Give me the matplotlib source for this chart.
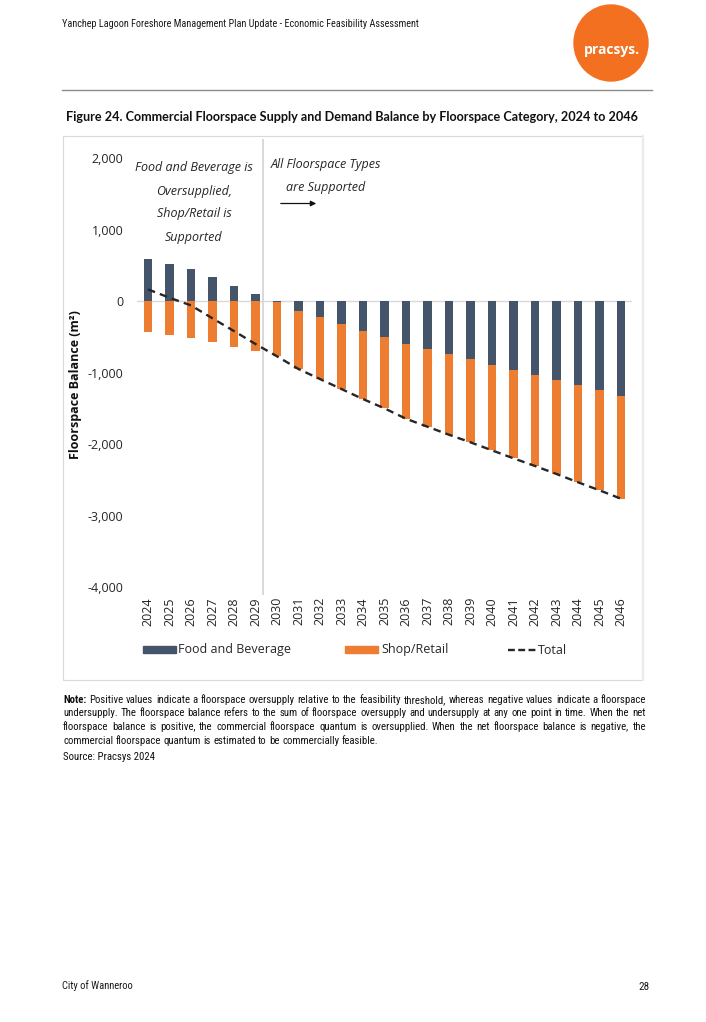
import matplotlib
matplotlib.use("Agg")
import matplotlib.pyplot as plt
from matplotlib.patches import Ellipse, Rectangle, FancyArrowPatch
from matplotlib.lines import Line2D
from matplotlib import font_manager
import numpy as np

# ---------------- data ----------------
years = [str(y) for y in range(2024, 2047)]
food_bev = [596, 521, 456, 335, 218, 102, -8, -131, -224, -317, -411, -501, -597,
            -667, -741, -811, -887, -957, -1031, -1101, -1175, -1245, -1320]
shop_retail = [-429, -471, -513, -573, -634, -699, -761, -816, -863, -910, -956, -996,
               -1045, -1087, -1125, -1161, -1197, -1239, -1272, -1314, -1356, -1398, -1441]
total = [167, 50, -57, -238, -416, -597, -769, -947, -1087, -1227, -1367, -1497, -1642,
         -1754, -1866, -1972, -2084, -2196, -2303, -2415, -2531, -2643, -2761]
y_ticks = [2000, 1000, 0, -1000, -2000, -3000, -4000]
series_names = ["Food and Beverage", "Shop/Retail", "Total"]

FOOD_C = "#44546A"
SHOP_C = "#ED7D31"
LOGO_C = "#F37021"
TXT_C = "#262626"


def pick(cands):
    for c in cands:
        try:
            font_manager.findfont(font_manager.FontProperties(family=c), fallback_to_default=False)
            return c
        except Exception:
            pass
    return "DejaVu Sans"


NARROW = pick(["Liberation Sans Narrow", "Roboto Condensed", "Open Sans Condensed", "Liberation Sans"])
CHART = pick(["Open Sans", "Noto Sans", "DejaVu Sans"])
TITLE = pick(["Lato", "Open Sans", "DejaVu Sans"])

W, H = 706, 1022
fig = plt.figure(figsize=(W / 100, H / 100), dpi=100)
bg = fig.add_axes([0, 0, 1, 1])
bg.set_xlim(0, W)
bg.set_ylim(H, 0)
bg.axis("off")
r = fig.canvas.get_renderer()


def fit_text(x, y, s, width, size0=10, **kw):
    t = bg.text(x, y, s, fontsize=size0, **kw)
    w = t.get_window_extent(r).width
    t.set_fontsize(size0 * width / w)
    return t


def word_w(s, size, family, weight="normal"):
    t = bg.text(0, 0, s, fontsize=size, family=family, weight=weight)
    w = t.get_window_extent(r).width
    t.remove()
    return w


# ---------------- header ----------------
fit_text(62, 24, "Yanchep Lagoon Foreshore Management Plan Update - Economic Feasibility Assessment",
         352, family=NARROW, color="#1a1a1a", va="center", ha="left")
bg.add_patch(Ellipse((611, 43), 74, 76, color=LOGO_C, zorder=1))
fit_text(612, 50, "pracsys.", 56, family=CHART, weight="bold", color="white",
         va="center", ha="center", zorder=2)
bg.add_line(Line2D([62, 652], [90, 90], color="#8C8C8C", lw=1.0))

fit_text(66, 117, "Figure 24. Commercial Floorspace Supply and Demand Balance by Floorspace Category, 2024 to 2046",
         577, family=TITLE, weight="bold", color="#111111", va="center", ha="left")

# ---------------- chart frame ----------------
bg.add_patch(Rectangle((63, 136), 579, 544, fill=False, edgecolor="#D9D9D9", lw=0.8))
bg.add_line(Line2D([642.5, 642.5], [136, 680], color="#EBEBEB", lw=1.6))
bg.add_line(Line2D([263, 263], [140, 594], color="#D9D9D9", lw=1.4))

# ---------------- main axes ----------------
x0, x1 = 137.2, 631.7
ytop, ybot = 158.3, 587.3
ax = fig.add_axes([x0 / W, 1 - ybot / H, (x1 - x0) / W, (ybot - ytop) / H])
ax.set_facecolor("none")
xs = np.arange(len(years))
food = np.array(food_bev, dtype=float)
shop = np.array(shop_retail, dtype=float)
shop_bottom = np.where(food < 0, food, 0.0)
bw = 0.38
ax.axhline(0, color="#D9D9D9", lw=1.0, zorder=1)
ax.bar(xs, food, bw, color=FOOD_C, zorder=2, linewidth=0)
ax.bar(xs, shop, bw, bottom=shop_bottom, color=SHOP_C, zorder=2, linewidth=0)
ax.plot(xs, total, color="#262626", lw=1.7, linestyle=(0, (3.2, 2.2)), zorder=3)
ax.set_xlim(-0.5, len(years) - 0.5)
ax.set_ylim(-4000, 2000)
ax.set_yticks(y_ticks)
ax.set_yticklabels([f"{v:,}" for v in y_ticks], fontsize=9, family=CHART, color=TXT_C)
ax.set_xticks(xs)
ax.set_xticklabels(years, rotation=90, fontsize=9, family=CHART, color=TXT_C)
ax.tick_params(axis="y", length=0, pad=10)
ax.tick_params(axis="x", length=0, pad=7)
for s in ax.spines.values():
    s.set_visible(False)

# y label
bg.text(75, 385, "Floorspace Balance (m²)", rotation=90, fontsize=9, family=CHART,
        weight="bold", color="#111111", ha="center", va="center")

# annotations
for yy, s in zip([167.7, 191, 214, 237.3],
                 ["Food and Beverage is", "Oversupplied,", "Shop/Retail is", "Supported"]):
    bg.text(194, yy, s, fontsize=9, family=CHART, style="italic", color=TXT_C,
            ha="center", va="center")
for yy, s in zip([164.3, 187.7], ["All Floorspace Types", "are Supported"]):
    bg.text(325.5, yy, s, fontsize=9, family=CHART, style="italic", color=TXT_C,
            ha="center", va="center")
bg.add_patch(FancyArrowPatch((278, 203.5), (319, 203.5), arrowstyle="-|>",
                             mutation_scale=8, lw=0.9, color="#111111"))

# legend
ly = 650
bg.add_patch(Rectangle((143, ly - 3.5), 33, 7, color=FOOD_C))
bg.text(178, ly, series_names[0], fontsize=9, family=CHART, color=TXT_C, va="center", ha="left")
bg.add_patch(Rectangle((345, ly - 3.5), 33, 7, color=SHOP_C))
bg.text(381, ly, series_names[1], fontsize=9, family=CHART, color=TXT_C, va="center", ha="left")
bg.add_line(Line2D([508, 536], [ly, ly], color="#262626", lw=1.7, linestyle=(0, (2.9, 1.45))))
bg.text(538, ly, series_names[2], fontsize=9, family=CHART, color=TXT_C, va="center", ha="left")

# ---------------- note ----------------
note_raw = [
    "Positive values indicate a floorspace oversupply relative to the feasibility threshold, whereas negative values indicate a floorspace",
    "undersupply.  The floorspace balance refers to the sum of floorspace oversupply and undersupply at any one point in time. When the net",
    "floorspace balance is positive, the commercial floorspace quantum is oversupplied. When the net floorspace balance is negative, the",
    "commercial floorspace quantum is estimated to be commercially feasible.",
]
note_lines = [[("Note:", "bold")] + [(w, "normal") for w in note_raw[0].split()]] + \
             [[(w, "normal") for w in s.split()] for s in note_raw[1:]]
nx0, nx1 = 63, 646
sz0 = 8
nat = word_w("Note: " + note_raw[0], sz0, NARROW)
nsz = sz0 * (nx1 - nx0) * 0.99 / nat
space = word_w("a b", nsz, NARROW) - word_w("ab", nsz, NARROW)
for i, (line, yy) in enumerate(zip(note_lines, [703, 716.5, 730, 743.5])):
    widths = [word_w(w, nsz, NARROW, wt) for w, wt in line]
    if i < len(note_lines) - 1:
        gap = (nx1 - nx0 - sum(widths)) / (len(line) - 1)
    else:
        gap = space
    x = nx0
    for (w, wt), ww in zip(line, widths):
        bg.text(x, yy, w, fontsize=nsz, family=NARROW, weight=wt, color="#111111",
                va="baseline", ha="left")
        x += ww + gap

bg.text(63, 760, "Source: Pracsys 2024", fontsize=nsz, family=NARROW, color="#111111",
        va="baseline", ha="left")

# ---------------- footer ----------------
fit_text(62, 986, "City of Wanneroo", 71, family=NARROW, color="#1a1a1a", va="center", ha="left")
bg.text(650, 987, "28", fontsize=8, family=NARROW, color="#1a1a1a", va="center", ha="right")

fig.savefig("out.png", dpi=100)
